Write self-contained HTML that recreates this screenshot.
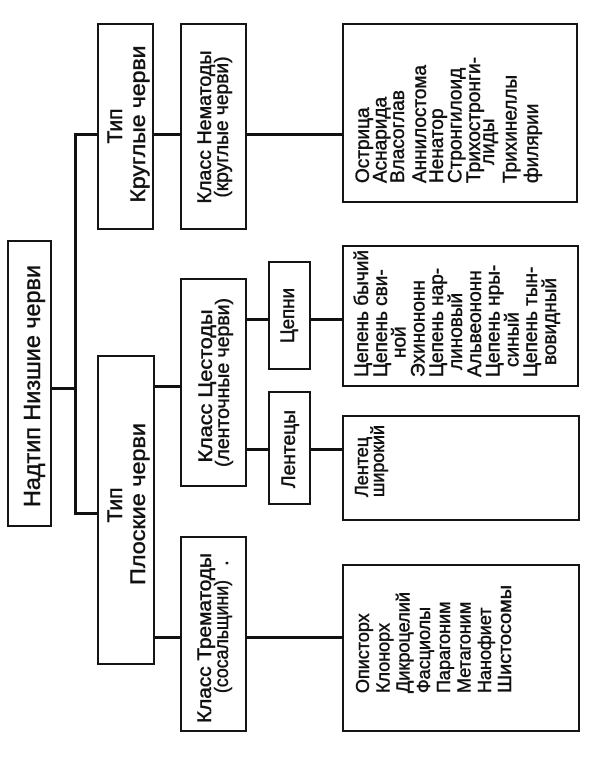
<!DOCTYPE html>
<html>
<head>
<meta charset="utf-8">
<style>
  html, body { margin: 0; padding: 0; background: #fff; }
  body { width: 600px; height: 761px; overflow: hidden; }
  svg { display: block; }
  text { font-family: "Liberation Sans", "DejaVu Sans", sans-serif; fill: #111; stroke: #111; stroke-width: 0.5; }
</style>
</head>
<body>
<svg width="600" height="761" viewBox="0 0 600 761" xmlns="http://www.w3.org/2000/svg">
  <rect x="0" y="0" width="600" height="761" fill="#fff"/>

  <!-- boxes -->
  <g fill="none" stroke="#151515" stroke-width="2">
    <rect x="8" y="241" width="43" height="285"/>
    <rect x="98" y="24" width="55" height="205"/>
    <rect x="98" y="356" width="56" height="308"/>
    <rect x="181" y="24" width="65" height="205"/>
    <rect x="181" y="279" width="65" height="207"/>
    <rect x="181" y="537" width="65" height="194"/>
    <rect x="269" y="262" width="41" height="107"/>
    <rect x="269" y="392" width="41" height="112"/>
    <rect x="343" y="24" width="234" height="178"/>
    <rect x="343" y="246" width="235" height="140"/>
    <rect x="343" y="416" width="236" height="104"/>
    <rect x="343" y="565" width="236" height="166"/>
  </g>

  <!-- connectors -->
  <g fill="#111">
    <rect x="74" y="133" width="3" height="382"/>
    <rect x="74" y="133" width="24" height="3"/>
    <rect x="74" y="512" width="24" height="3"/>
    <rect x="52" y="387" width="23" height="3"/>
    <rect x="154" y="133" width="27" height="3"/>
    <rect x="247" y="133" width="96" height="3"/>
    <rect x="155" y="385" width="26" height="3"/>
    <rect x="155" y="636" width="26" height="3"/>
    <rect x="247" y="636" width="96" height="3"/>
    <rect x="247" y="318" width="22" height="3"/>
    <rect x="311" y="318" width="32" height="3"/>
    <rect x="247" y="448" width="22" height="3"/>
    <rect x="311" y="448" width="32" height="3"/>
  </g>

  <!-- centered labels -->
  <g text-anchor="middle">
    <text transform="translate(40,386) rotate(-90)" font-size="23" textLength="242" lengthAdjust="spacingAndGlyphs">Надтип Низшие черви</text>

    <text transform="translate(122,126) rotate(-90)" font-size="21">Тип</text>
    <text transform="translate(145,124) rotate(-90)" font-size="21" textLength="157" lengthAdjust="spacingAndGlyphs">Круглые черви</text>

    <text transform="translate(122,505) rotate(-90)" font-size="21">Тип</text>
    <text transform="translate(145,504) rotate(-90)" font-size="21" textLength="162" lengthAdjust="spacingAndGlyphs">Плоские черви</text>

    <text transform="translate(211,127) rotate(-90)" font-size="19.5" textLength="153" lengthAdjust="spacingAndGlyphs">Класс Нематоды</text>
    <text transform="translate(228,127) rotate(-90)" font-size="19.5" textLength="141" lengthAdjust="spacingAndGlyphs">(круглые черви)</text>

    <text transform="translate(212,386) rotate(-90)" font-size="19.5" textLength="153" lengthAdjust="spacingAndGlyphs">Класс Цестоды</text>
    <text transform="translate(229,382.5) rotate(-90)" font-size="19.5" textLength="169" lengthAdjust="spacingAndGlyphs">(ленточные черви)</text>

    <text transform="translate(211,638) rotate(-90)" font-size="19.5" textLength="170" lengthAdjust="spacingAndGlyphs">Класс Трематоды</text>
    <text transform="translate(228,636.5) rotate(-90)" font-size="19.5" textLength="113" lengthAdjust="spacingAndGlyphs">(сосальщини)</text>
    <text transform="translate(228,563) rotate(-90)" font-size="19.5">.</text>

    <text transform="translate(294,315.5) rotate(-90)" font-size="19" textLength="55" lengthAdjust="spacingAndGlyphs">Цепни</text>
    <text transform="translate(295,449) rotate(-90)" font-size="19" textLength="78" lengthAdjust="spacingAndGlyphs">Лентецы</text>
  </g>

  <!-- nematode species -->
  <g text-anchor="start" font-size="19">
    <text transform="translate(369,183) rotate(-90)">Острица</text>
    <text transform="translate(386.5,183) rotate(-90)">Аснарида</text>
    <text transform="translate(404,183) rotate(-90)">Власоглав</text>
    <text transform="translate(426,183) rotate(-90)" textLength="118" lengthAdjust="spacingAndGlyphs">Аннилостома</text>
    <text transform="translate(443,183) rotate(-90)">Ненатор</text>
    <text transform="translate(461.5,183) rotate(-90)">Стронгилоид</text>
    <text transform="translate(480,183) rotate(-90)" textLength="126" lengthAdjust="spacingAndGlyphs">Трихостронги-</text>
    <text transform="translate(494,165) rotate(-90)">лиды</text>
    <text transform="translate(516.5,183) rotate(-90)">Трихинеллы</text>
    <text transform="translate(538,183) rotate(-90)">филярии</text>
  </g>

  <!-- cestode (tapeworm) species -->
  <g text-anchor="start" font-size="19">
    <text transform="translate(368,377) rotate(-90)" textLength="127" lengthAdjust="spacingAndGlyphs">Цепень бычий</text>
    <text transform="translate(386.8,377) rotate(-90)">Цепень сви-</text>
    <text transform="translate(405.6,358) rotate(-90)">ной</text>
    <text transform="translate(424.4,377) rotate(-90)">Эхинононн</text>
    <text transform="translate(443.2,377) rotate(-90)">Цепень нар-</text>
    <text transform="translate(462,370) rotate(-90)">линовый</text>
    <text transform="translate(480.8,377) rotate(-90)">Альвеононн</text>
    <text transform="translate(499.6,377) rotate(-90)">Цепень нры-</text>
    <text transform="translate(518.4,367) rotate(-90)">синый</text>
    <text transform="translate(537.2,377) rotate(-90)">Цепень тын-</text>
    <text transform="translate(556,365) rotate(-90)">вовидный</text>
  </g>

  <!-- lentets -->
  <g text-anchor="start" font-size="18">
    <text transform="translate(368,497) rotate(-90)">Лентец</text>
    <text transform="translate(384,497) rotate(-90)" textLength="72" lengthAdjust="spacingAndGlyphs">широкий</text>
  </g>

  <!-- trematode species -->
  <g text-anchor="start" font-size="18">
    <text transform="translate(369,693) rotate(-90)">Описторх</text>
    <text transform="translate(389.3,693) rotate(-90)">Клонорх</text>
    <text transform="translate(409.6,693) rotate(-90)" textLength="101" lengthAdjust="spacingAndGlyphs">Дикроцелий</text>
    <text transform="translate(429.9,693) rotate(-90)">Фасциолы</text>
    <text transform="translate(450.2,693) rotate(-90)">Парагоним</text>
    <text transform="translate(470.5,693) rotate(-90)">Метагоним</text>
    <text transform="translate(490.8,693) rotate(-90)">Нанофиет</text>
    <text transform="translate(511.1,693) rotate(-90)" textLength="108" lengthAdjust="spacingAndGlyphs">Шистосомы</text>
  </g>
</svg>
</body>
</html>
